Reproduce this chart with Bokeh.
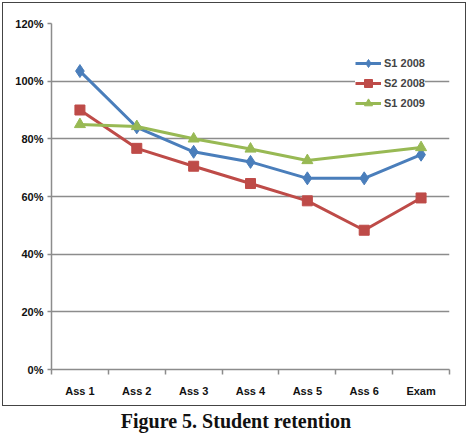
from bokeh.plotting import figure
from bokeh.models import (Range1d, FixedTicker, NumeralTickFormatter, Legend, LegendItem, Div)
from bokeh.layouts import column
from bokeh.embed import file_html
from bokeh.resources import INLINE

categories = ["Ass 1", "Ass 2", "Ass 3", "Ass 4", "Ass 5", "Ass 6", "Exam"]
s1_2008 = [1.035, 0.84, 0.755, 0.72, 0.663, 0.663, 0.745]
s2_2008 = [0.90, 0.767, 0.705, 0.645, 0.585, 0.483, 0.595]
s1_2009 = [0.85, 0.843, 0.80, 0.765, 0.725, None, 0.77]
y_ticks = [0, 0.2, 0.4, 0.6, 0.8, 1.0, 1.2]
caption = "Figure 5. Student retention"

xs = list(range(1, len(categories) + 1))

p = figure(width=464, height=404, output_backend="svg", toolbar_location=None,
           x_range=Range1d(0.5, len(categories) + 0.5), y_range=Range1d(0, 1.2),
           min_border_left=48, min_border_right=18, min_border_top=20, min_border_bottom=38,
           styles={"border": "1.5px solid #444444", "margin-left": "2px", "margin-top": "2px"})
p.outline_line_color = None
p.background_fill_color = "white"
p.border_fill_color = "white"

font = "Liberation Sans"
p.xaxis.ticker = FixedTicker(ticks=xs, minor_ticks=[x - 0.5 for x in xs] + [len(xs) + 0.5])
p.xaxis.major_label_overrides = {x: c for x, c in zip(xs, categories)}
p.xaxis.major_tick_line_color = None
p.xaxis.minor_tick_line_color = "#8c8c8c"
p.xaxis.minor_tick_line_width = 1.5
p.xaxis.minor_tick_out = 5
p.xaxis.minor_tick_in = 0
p.xaxis.axis_line_color = "#8c8c8c"
p.xaxis.axis_line_width = 1.5
p.xaxis.major_label_standoff = 9
p.xgrid.grid_line_color = None

p.yaxis.ticker = FixedTicker(ticks=y_ticks)
p.yaxis.formatter = NumeralTickFormatter(format="0%")
p.yaxis.major_tick_line_color = "#8c8c8c"
p.yaxis.major_tick_line_width = 1.5
p.yaxis.major_tick_out = 4
p.yaxis.major_tick_in = 0
p.yaxis.minor_tick_line_color = None
p.yaxis.axis_line_color = "#8c8c8c"
p.yaxis.axis_line_width = 1.5
p.yaxis.major_label_standoff = 4
p.ygrid.grid_line_color = "#8c8c8c"
p.ygrid.grid_line_width = 1.5

for ax in (p.xaxis, p.yaxis):
    ax.major_label_text_font = font
    ax.major_label_text_font_style = "bold"
    ax.major_label_text_font_size = "11px"
    ax.major_label_text_color = "#111111"

blue, red, green = "#4a7ebb", "#be4b48", "#98b954"

l1 = p.line(xs, s1_2008, color=blue, line_width=3)
m1 = p.scatter(xs, s1_2008, marker="diamond", size=13, color=blue)
l2 = p.line(xs, s2_2008, color=red, line_width=3)
m2 = p.scatter(xs, s2_2008, marker="square", size=10, color=red)
x3 = [x for x, v in zip(xs, s1_2009) if v is not None]
y3 = [v for v in s1_2009 if v is not None]
l3 = p.line(x3, y3, color=green, line_width=3)
m3 = p.scatter(x3, y3, marker="triangle", size=11, color=green)

legend = Legend(items=[LegendItem(label="S1 2008", renderers=[l1, m1]),
                       LegendItem(label="S2 2008", renderers=[l2, m2]),
                       LegendItem(label="S1 2009", renderers=[l3, m3])],
                location=(304, 256), border_line_color=None, background_fill_alpha=1,
                label_text_font=font, label_text_font_style="bold",
                label_text_font_size="11px", glyph_width=26, spacing=0,
                label_standoff=3, padding=4, margin=0)
p.add_layout(legend)

cap = Div(text=caption, width=462, height=22,
          styles={"font-family": "'Liberation Serif', 'Times New Roman', serif",
                  "font-weight": "bold", "font-size": "20px", "color": "#111111",
                  "text-align": "center", "margin-top": "4px", "line-height": "22px"})

layout = column(p, cap, spacing=0)
open("out.html", "w").write(file_html(layout, INLINE))
